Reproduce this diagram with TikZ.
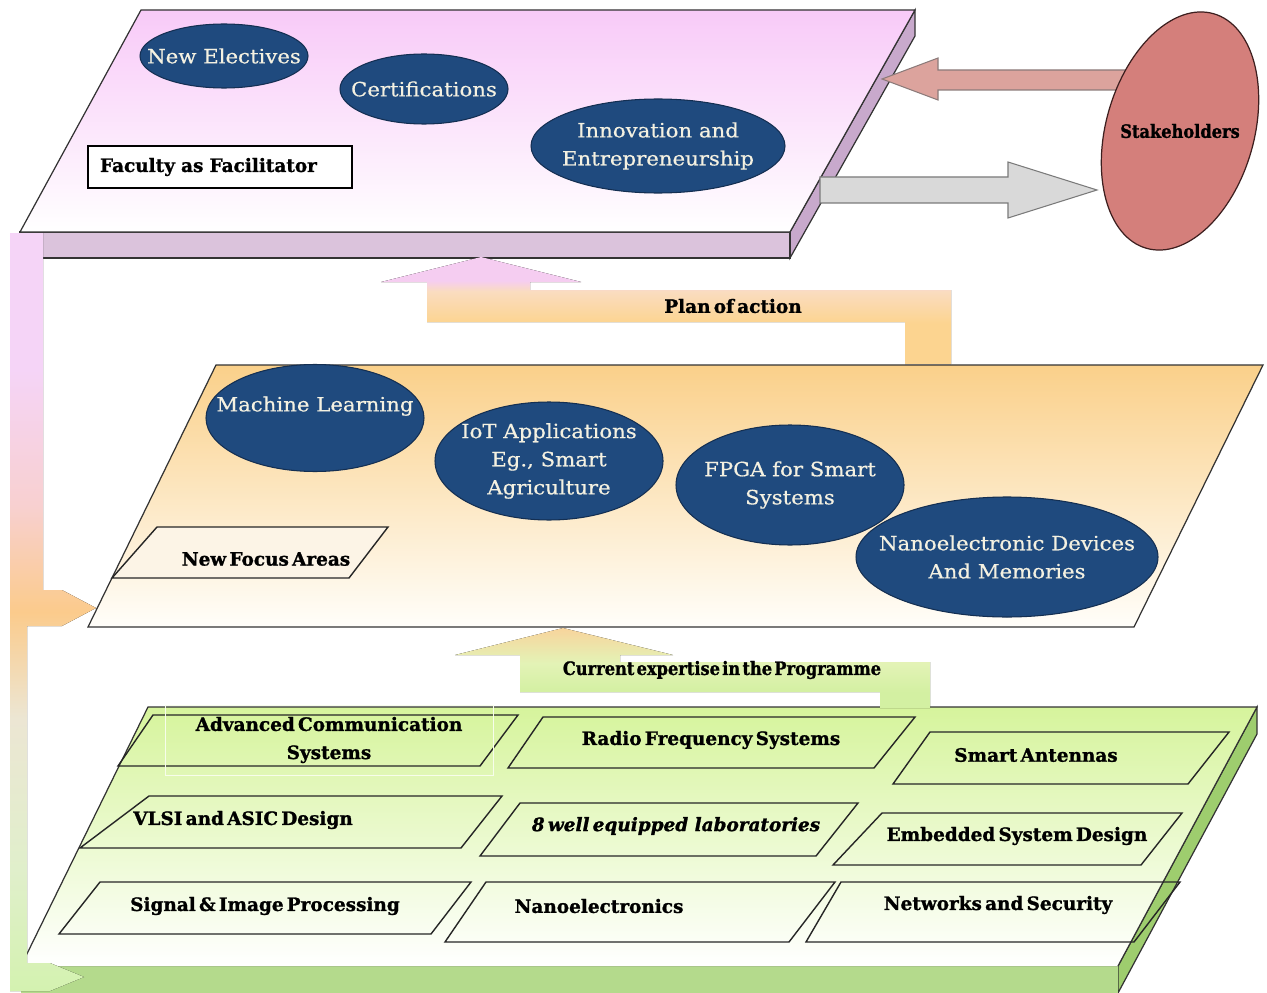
\documentclass[tikz,border=0pt]{standalone}
\usepackage{fontspec}
\setmainfont{DejaVu Serif}
\newfontfamily\tagfont{DejaVu Serif}[WordSpace=0.5, BoldFeatures={FakeBold=1.2}, BoldItalicFeatures={FakeBold=1.2}]
\newfontfamily\narrowfont{DejaVu Serif}[FakeStretch=0.88, WordSpace=0.4, BoldFeatures={FakeBold=1.2}]
\newfontfamily\topicfont{DejaVu Serif}[FakeStretch=1.08, FakeBold=0.5]
\usepackage{graphicx}
\usepackage{tikz}
\usetikzlibrary{shapes.geometric}
\newcommand{\px}{0.02cm}
\definecolor{navy}{HTML}{1F4A7E}
\definecolor{navyedge}{HTML}{142F52}
\definecolor{cream}{HTML}{F4F1E1}
\definecolor{topPink}{HTML}{F8CAF8}
\definecolor{topFront}{HTML}{DBC3DC}
\definecolor{topSide}{HTML}{C8A9CC}
\definecolor{stakeFill}{HTML}{D47F7B}
\definecolor{stakeEdge}{HTML}{3D1F1F}
\definecolor{pinkArrow}{HTML}{DCA39D}
\definecolor{pinkEdge}{HTML}{8C7B7A}
\definecolor{grayArrow}{HTML}{D9D9D9}
\definecolor{grayEdge}{HTML}{7A7A7A}
\definecolor{midOrange}{HTML}{FAD08A}
\definecolor{midWhite}{HTML}{FFFEFA}
\definecolor{focusFill}{HTML}{FCF4E6}
\definecolor{greenTop}{HTML}{D6F49C}
\definecolor{greenFront}{HTML}{B4DA8C}
\definecolor{greenSide}{HTML}{9ECD6E}
\definecolor{barGreen}{HTML}{D4F2B0}
\definecolor{barMint}{HTML}{E0EFCB}
\definecolor{barBeige}{HTML}{ECE6D3}
\definecolor{barOrange}{HTML}{FBCB8C}
\definecolor{barPeach}{HTML}{F8D0D0}
\definecolor{barPink}{HTML}{F5D4F7}
\definecolor{planOrange}{HTML}{FCD490}
\definecolor{planPeach}{HTML}{FADCC0}
\definecolor{planPink}{HTML}{F5CDF1}
\definecolor{expGreen}{HTML}{D3F0A2}
\definecolor{expLime}{HTML}{E3F3B6}
\definecolor{expTan}{HTML}{F8D49C}
\pgfdeclareverticalshading{barshade}{100bp}{color(0bp)=(barGreen); color(25bp)=(barGreen);
  color(33bp)=(barMint); color(43bp)=(barBeige); color(50bp)=(barOrange);
  color(57bp)=(barPeach); color(66bp)=(barPink); color(100bp)=(barPink)}
\pgfdeclareverticalshading{planshade}{100bp}{color(0bp)=(planOrange); color(44bp)=(planOrange);
  color(59bp)=(planPeach); color(64bp)=(planPink); color(100bp)=(planPink)}
\pgfdeclareverticalshading{expshade}{100bp}{color(0bp)=(expGreen); color(35bp)=(expGreen);
  color(53bp)=(expLime); color(75bp)=(expTan); color(100bp)=(expTan)}
\tikzstyle{plate}=[%
      draw=black!80, line width=0.7pt
]
\tikzstyle{tile}=[%
      draw=black!85, line width=0.8pt
]
\tikzstyle{topic}=[%
      ellipse, draw=navyedge, fill=navy, text=cream, line width=0.6pt,
      font=\topicfont\fontsize{11.2}{16}\selectfont, align=center, inner xsep=-32*\px, inner ysep=0pt
]
\tikzstyle{tag}=[%
      font=\tagfont\bfseries\fontsize{10.5}{16}\selectfont, text=black, inner sep=0pt, align=center
]
\tikzstyle{stake}=[%
      ellipse, draw=stakeEdge, fill=stakeFill, line width=0.7pt, inner sep=0pt,
      font=\narrowfont\bfseries\fontsize{10.5}{14}\selectfont
]
\begin{document}
\begin{tikzpicture}[x=0.02cm, y=-0.02cm]
    \useasboundingbox (0,0) rectangle (1267,993);

    % top plate
    \draw[plate, fill=topSide] (915,10) -- (915,36) -- (790,258) -- (790,232) -- cycle;
    \draw[plate, fill=topFront] (20,232) rectangle (790,258);
    \draw[plate, top color=topPink, bottom color=white] (141,10) -- (915,10) -- (790,232) -- (20,232) -- cycle;

    \node[tag, draw=black, fill=white, line width=0.8pt, minimum height=42*\px,
          text width=240*\px, inner xsep=12*\px, align=left] (faculty) at (220,167) {Faculty as Facilitator};
    \node[topic, minimum width=168*\px, minimum height=64*\px] (electives) at (224,56) {New Electives};
    \node[topic, minimum width=168*\px, minimum height=70*\px] (certs)     at (424,89) {Certifications};
    \node[topic, minimum width=254*\px, minimum height=94*\px] (innov)     at (658,146) {Innovation and\\Entrepreneurship};

    % feedback with stakeholders
    \draw[draw=pinkEdge, fill=pinkArrow, line width=0.6pt] (1128,70) -- (938,70) -- (938,58) -- (882,79) -- (938,100) -- (938,90) -- (1128,90) -- cycle;
    \draw[draw=grayEdge, fill=grayArrow, line width=0.6pt] (820,177) -- (1008,177) -- (1008,162) -- (1097,190) -- (1008,218) -- (1008,203) -- (820,203) -- cycle;
    \node[stake, rotate=-16, minimum width=148*\px, minimum height=244*\px] (stake) at (1180,131) {\rotatebox{16}{\makebox[0pt]{Stakeholders}}};

    % plan of action
    \fill[shading=planshade] (905,364) -- (905,322) -- (427,322) -- (427,282) -- (381,282) -- (481,257) -- (581,282)
          -- (530,282) -- (530,290) -- (951,290) -- (951,364) -- cycle;
    \node[tag] (plan) at (733,306) {Plan of action};

    % middle plate
    \draw[plate, top color=midOrange, bottom color=midWhite] (216,365) -- (1263,365) -- (1134,627) -- (88,627) -- cycle;
    \draw[tile, fill=focusFill] (157,527) -- (388,527) -- (349,578) -- (112,578) -- cycle;
    \node[tag] (focus) at (266,559) {New Focus Areas};

    \node[topic, minimum width=218*\px, minimum height=107*\px] (ml)   at (315,418) {Machine Learning\\\mbox{}};
    \node[topic, minimum width=228*\px, minimum height=118*\px] (iot)  at (549,461) {IoT Applications\\Eg., Smart\\Agriculture};
    \node[topic, minimum width=228*\px, minimum height=120*\px] (fpga) at (790,485) {FPGA for Smart\\Systems};
    \node[topic, minimum width=302*\px, minimum height=120*\px] (nano) at (1007,557) {Nanoelectronic Devices\\And Memories};

    % bottom plate
    \draw[plate, fill=greenSide] (1257,707) -- (1257,734) -- (1118,993) -- (1118,966) -- cycle;
    \fill[greenFront] (21,966) rectangle (1118,993);
    \fill[top color=greenTop, bottom color=white] (148,707) -- (1257,707) -- (1118,966) -- (21,966) -- cycle;
    \draw[plate] (21,966) -- (148,707) -- (1257,707) -- (1118,966);

    % current expertise
    \fill[shading=expshade] (880,708) -- (880,692) -- (520,692) -- (520,655) -- (455,655) -- (563,628) -- (673,655)
          -- (620,655) -- (620,662) -- (930,662) -- (930,708) -- cycle;
    \node[tag, font=\narrowfont\bfseries\fontsize{10.5}{16}\selectfont] (expertise) at (722,670) {Current expertise in the Programme};

    \draw[tile] (153,715) -- (518,715) -- (480,766) -- (118,766) -- cycle;
    \draw[tile] (543,717) -- (915,717) -- (874,768) -- (508,768) -- cycle;
    \draw[tile] (930,732) -- (1229,732) -- (1188,784) -- (893,784) -- cycle;
    \draw[tile] (149,796) -- (502,796) -- (461,848) -- (80,848) -- cycle;
    \draw[tile] (520,803) -- (858,803) -- (816,856) -- (480,856) -- cycle;
    \draw[tile] (882,813) -- (1182,813) -- (1141,865) -- (833,865) -- cycle;
    \draw[tile] (100,882) -- (471,882) -- (431,934) -- (59,934) -- cycle;
    \draw[tile] (486,882) -- (835,882) -- (789,942) -- (445,942) -- cycle;
    \draw[tile] (841,882) -- (1180,882) -- (1134,942) -- (806,942) -- cycle;

    \node[tag, draw=white!80!greenTop, line width=0.5pt, minimum width=328*\px, minimum height=70*\px] (acs) at (329,740) {Advanced Communication\\Systems};
    \node[tag] (rf)    at (711,740) {Radio Frequency Systems};
    \node[tag] (ant)   at (1036,755) {Smart Antennas};
    \node[tag] (vlsi)  at (243,820) {VLSI and ASIC Design};
    \node[tag, font=\tagfont\bfseries\itshape\fontsize{10.5}{16}\selectfont] (labs) at (676,826) {8 well equipped\ \ laboratories};
    \node[tag] (emb)   at (1017,836) {Embedded System Design};
    \node[tag] (sip)   at (265,906) {Signal \& Image Processing};
    \node[tag] (nanoe) at (599,906) {Nanoelectronics};
    \node[tag] (net)   at (998,905) {Networks and Security};

    % left feed bar
    \fill[shading=barshade] (10,233) -- (43,233) -- (43,590) -- (62,590) -- (96,608) -- (62,626) -- (27,626)
          -- (27,963) -- (50,963) -- (84,977) -- (50,991) -- (10,991) -- cycle;

\end{tikzpicture}
\end{document}
